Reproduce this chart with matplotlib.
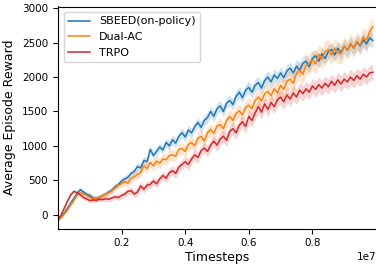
import numpy as np
import matplotlib
matplotlib.use("Agg")
import matplotlib.pyplot as plt

# timesteps (every 1e5 steps)
timesteps = np.arange(100) * 1e5

sbeed = [-75, -30, 30, 100, 170, 240, 310, 365, 330, 300,
         280, 245, 235, 250, 275, 300, 330, 360, 410, 440,
         490, 520, 545, 600, 630, 700, 680, 790, 770, 950,
         860, 920, 985, 940, 1050, 1000, 1090, 1040, 1140, 1190,
         1130, 1230, 1190, 1280, 1340, 1270, 1370, 1410, 1500, 1430,
         1540, 1580, 1500, 1620, 1660, 1600, 1720, 1780, 1700, 1810,
         1850, 1780, 1880, 1920, 1840, 1950, 2000, 1930, 2030, 1980,
         2060, 1990, 2090, 2130, 2060, 2160, 2100, 2200, 2230, 2150,
         2270, 2310, 2230, 2340, 2270, 2370, 2400, 2320, 2420, 2350,
         2450, 2390, 2480, 2420, 2510, 2450, 2540, 2480, 2570, 2530]

dual_ac = [-75, -40, 10, 70, 140, 210, 280, 320, 300, 280,
           250, 230, 240, 255, 270, 300, 320, 350, 390, 430,
           455, 480, 460, 530, 550, 590, 610, 710, 670, 760,
           710, 780, 750, 810, 800, 860, 870, 850, 950, 960,
           920, 1020, 1050, 1000, 1110, 1140, 1070, 1190, 1240, 1180,
           1290, 1310, 1250, 1370, 1430, 1370, 1470, 1510, 1450, 1560,
           1590, 1540, 1660, 1710, 1650, 1760, 1790, 1730, 1830, 1770,
           1880, 1820, 1940, 1970, 1910, 2050, 2100, 2040, 2170, 2200,
           2250, 2190, 2330, 2260, 2370, 2400, 2320, 2420, 2350, 2340,
           2450, 2390, 2490, 2420, 2520, 2460, 2580, 2530, 2660, 2730]

trpo = [-75, 0, 100, 200, 290, 340, 320, 290, 250, 230,
        205, 215, 210, 225, 220, 230, 225, 245, 260, 250,
        280, 300, 340, 350, 300, 330, 420, 370, 430, 440,
        490, 450, 520, 570, 530, 610, 640, 600, 690, 730,
        770, 730, 810, 870, 830, 930, 970, 920, 1010, 1070,
        1010, 1100, 1140, 1080, 1210, 1250, 1190, 1300, 1350, 1280,
        1430, 1370, 1480, 1570, 1490, 1610, 1530, 1630, 1570, 1670,
        1710, 1640, 1740, 1680, 1770, 1710, 1810, 1760, 1830, 1780,
        1870, 1820, 1890, 1840, 1910, 1860, 1940, 1880, 1960, 1900,
        1970, 1930, 2000, 1950, 2020, 1970, 2040, 2000, 2060, 2070]

# half width of the shaded band, one value per 5 points
sbeed_band = [20, 30, 40, 40, 50, 60, 60, 70, 70, 80, 80, 80, 90, 90, 90, 100, 100, 100, 100, 110]
dual_ac_band = [20, 30, 40, 50, 60, 70, 80, 80, 90, 90, 100, 100, 110, 120, 130, 140, 150, 150, 140, 140]
trpo_band = [20, 30, 30, 40, 50, 60, 60, 70, 80, 80, 90, 90, 100, 100, 110, 110, 110, 110, 110, 110]

series = [
    ("SBEED(on-policy)", sbeed, sbeed_band, "#1f77b4"),
    ("Dual-AC", dual_ac, dual_ac_band, "#ff7f0e"),
    ("TRPO", trpo, trpo_band, "#d62728"),
]

fig = plt.figure(figsize=(3.76, 2.70), dpi=100)
ax = fig.add_axes([58 / 376, 41.5 / 270, 318 / 376, 222 / 270])

for nome, vals, band, cor in series:
    vals = np.array(vals, dtype=float)
    b = np.repeat(band, 5)
    ax.fill_between(timesteps, vals - b, vals + b, color=cor, alpha=0.2, linewidth=0)
    ax.plot(timesteps, vals, color=cor, lw=1.1, label=nome)

ax.set_xlim(0, 1.0e7)
ax.set_ylim(-200, 3025)
ax.set_xticks([2e6, 4e6, 6e6, 8e6])
ax.set_yticks([0, 500, 1000, 1500, 2000, 2500, 3000])
ax.ticklabel_format(axis="x", style="sci", scilimits=(7, 7))
ax.spines["right"].set_visible(False)
ax.tick_params(labelsize=7.5)
ax.xaxis.get_offset_text().set_fontsize(7.5)
ax.set_xlabel("Timesteps", fontsize=9, labelpad=2)
ax.set_ylabel("Average Episode Reward", fontsize=9)
ax.legend(loc="upper left", fontsize=8)

fig.savefig("out.png", dpi=100)
